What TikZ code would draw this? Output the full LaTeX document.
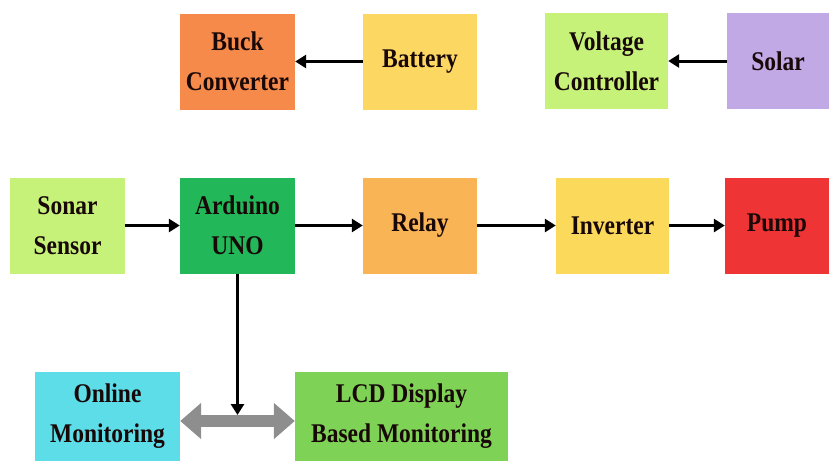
\documentclass[tikz,border=0pt]{standalone}
\usepackage{fontspec}
\newfontfamily\lab{Liberation Serif}[FakeStretch=0.87]
\usetikzlibrary{arrows.meta}
\definecolor{cBuck}{HTML}{F58A4B}
\definecolor{cBatt}{HTML}{FCD862}
\definecolor{cVolt}{HTML}{C6F27A}
\definecolor{cSolar}{HTML}{C1A9E6}
\definecolor{cArd}{HTML}{22B859}
\definecolor{cRelay}{HTML}{F8B455}
\definecolor{cInv}{HTML}{FBD95A}
\definecolor{cPump}{HTML}{EE3434}
\definecolor{cOnline}{HTML}{5CDDE8}
\definecolor{cLCD}{HTML}{7ED357}
\definecolor{cText}{HTML}{180808}
\definecolor{cGrey}{HTML}{8E8E8E}
\begin{document}
\begin{tikzpicture}[x=1pt,y=-1pt,
  blk/.style={inner sep=0pt, minimum height=96pt, align=center, text=cText,
    font=\lab\bfseries\fontsize{27}{40}\selectfont},
  arr/.style={line width=3pt, -{Triangle[length=11pt,width=13pt]}, black},
  dbl/.style={line width=12pt, cGrey, {Triangle[length=21pt,width=35pt]}-{Triangle[length=21pt,width=35pt]}}]
\useasboundingbox (0,0) rectangle (829,461);
% top row
\node[blk, fill=cBuck, minimum width=115pt] (buck) at (237.5,61.5) {Buck\\Converter};
\node[blk, fill=cBatt, minimum width=114pt] (batt) at (420,61.5) {Battery};
\node[blk, fill=cVolt, minimum width=123pt] (volt) at (606.5,61) {Voltage\\Controller};
\node[blk, fill=cSolar, minimum width=102pt] (solar) at (778,61) {Solar};
% middle row
\node[blk, fill=cVolt, minimum width=115pt] (sonar) at (67.5,225.5) {Sonar\\Sensor};
\node[blk, fill=cArd, minimum width=115pt] (ard) at (237.5,225.5) {Arduino\\UNO};
\node[blk, fill=cRelay, minimum width=114pt] (relay) at (420,225.5) {Relay};
\node[blk, fill=cInv, minimum width=113pt] (inv) at (612.5,225.5) {Inverter};
\node[blk, fill=cPump, minimum width=104pt] (pump) at (777,225.5) {Pump};
% bottom row
\node[blk, fill=cOnline, minimum width=145pt, minimum height=89pt] (online) at (107.5,416.5) {Online\\Monitoring};
\node[blk, fill=cLCD, minimum width=213pt, minimum height=89pt] (lcd) at (401.5,416.5) {LCD Display\\Based Monitoring};
% connectors
\draw[arr] (batt) -- (buck);
\draw[arr] (solar) -- (volt);
\draw[arr] (sonar) -- (ard);
\draw[arr] (ard) -- (relay);
\draw[arr] (relay) -- (inv);
\draw[arr] (inv) -- (pump);
\coordinate (mid) at (237.5,421);
\coordinate (tip) at (237.5,415);
\draw[dbl] (online.east |- mid) -- (lcd.west |- mid);
\draw[arr] (ard.south) -- (tip);
\end{tikzpicture}
\end{document}
